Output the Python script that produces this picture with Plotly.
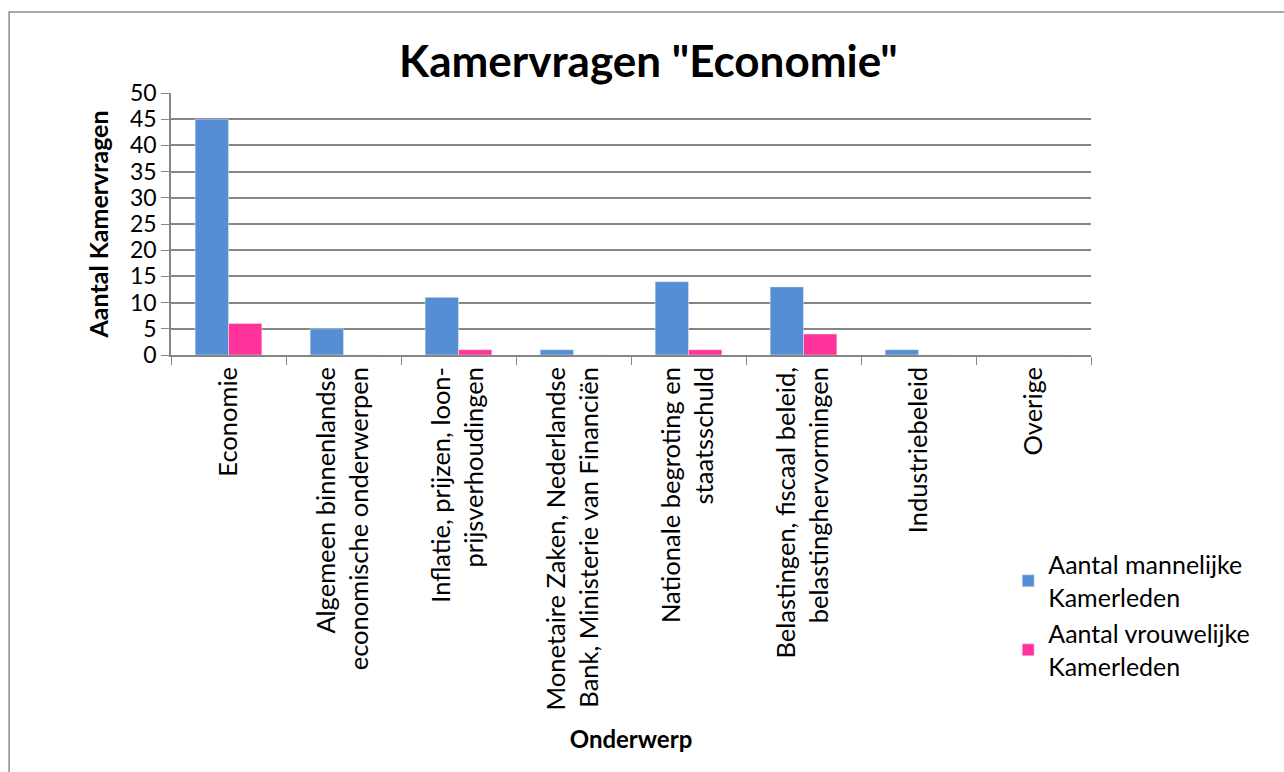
import plotly.graph_objects as go

categories = [
    "Economie",
    "Algemeen binnenlandse<br>economische onderwerpen",
    "Inflatie, prijzen, loon-<br>prijsverhoudingen",
    "Monetaire Zaken, Nederlandse<br>Bank, Ministerie van Financiën",
    "Nationale begroting en<br>staatsschuld",
    "Belastingen, fiscaal beleid,<br>belastinghervormingen",
    "Industriebeleid",
    "Overige",
]
mannen = [45, 5, 11, 1, 14, 13, 1, 0]
vrouwen = [6, 0, 1, 0, 1, 4, 0, 0]

FONT = "Lato, 'Open Sans', sans-serif"

fig = go.Figure()
fig.add_bar(name="Aantal mannelijke<br>Kamerleden", x=categories, y=mannen,
            marker_color="#558ED5", legendgroup="m")
fig.add_bar(name="Aantal vrouwelijke<br>Kamerleden", x=categories, y=vrouwen,
            marker_color="#FF3399", legendgroup="v")

# chart frame like the Excel export
fig.add_shape(type="rect", xref="paper", yref="paper",
              x0=-0.176, x1=1.25, y0=-1.7, y1=1.309,
              line=dict(color="#8c8c8c", width=1.5))

fig.update_layout(
    width=1284, height=772,
    margin=dict(l=171, r=193, t=93, b=417),
    paper_bgcolor="white", plot_bgcolor="white",
    font=dict(family=FONT, color="black", size=23),
    barmode="group", bargap=0.42, bargroupgap=0,
    title=dict(text='<b>Kamervragen "Economie"</b>', x=0.505, xanchor="center",
               y=0.92, yanchor="middle", font=dict(size=44, family=FONT)),
    legend=dict(x=0.91, y=-0.713, xanchor="left", yanchor="top",
                font=dict(size=25), tracegroupgap=1, traceorder="grouped",
                bgcolor="rgba(0,0,0,0)"),
)
fig.update_xaxes(
    tickangle=-90, tickson="boundaries", ticks="outside", ticklen=8,
    tickcolor="#868686", showline=True, linecolor="#868686", linewidth=1.5,
    tickfont=dict(size=25.5),
    title=dict(text="<b>Onderwerp</b>", font=dict(size=24), standoff=22),
)
fig.update_yaxes(
    range=[0, 50], dtick=5, ticks="outside", ticklen=8, tickcolor="#868686",
    showline=True, linecolor="#868686", linewidth=1.5,
    showgrid=True, gridcolor="#868686", gridwidth=1.5, zeroline=False,
    tickfont=dict(size=23),
    title=dict(text="<b>Aantal Kamervragen</b>", font=dict(size=25), standoff=14),
)

fig.write_html("out.html", config={"displayModeBar": False},
               post_script="document.body.style.margin='0px';")
